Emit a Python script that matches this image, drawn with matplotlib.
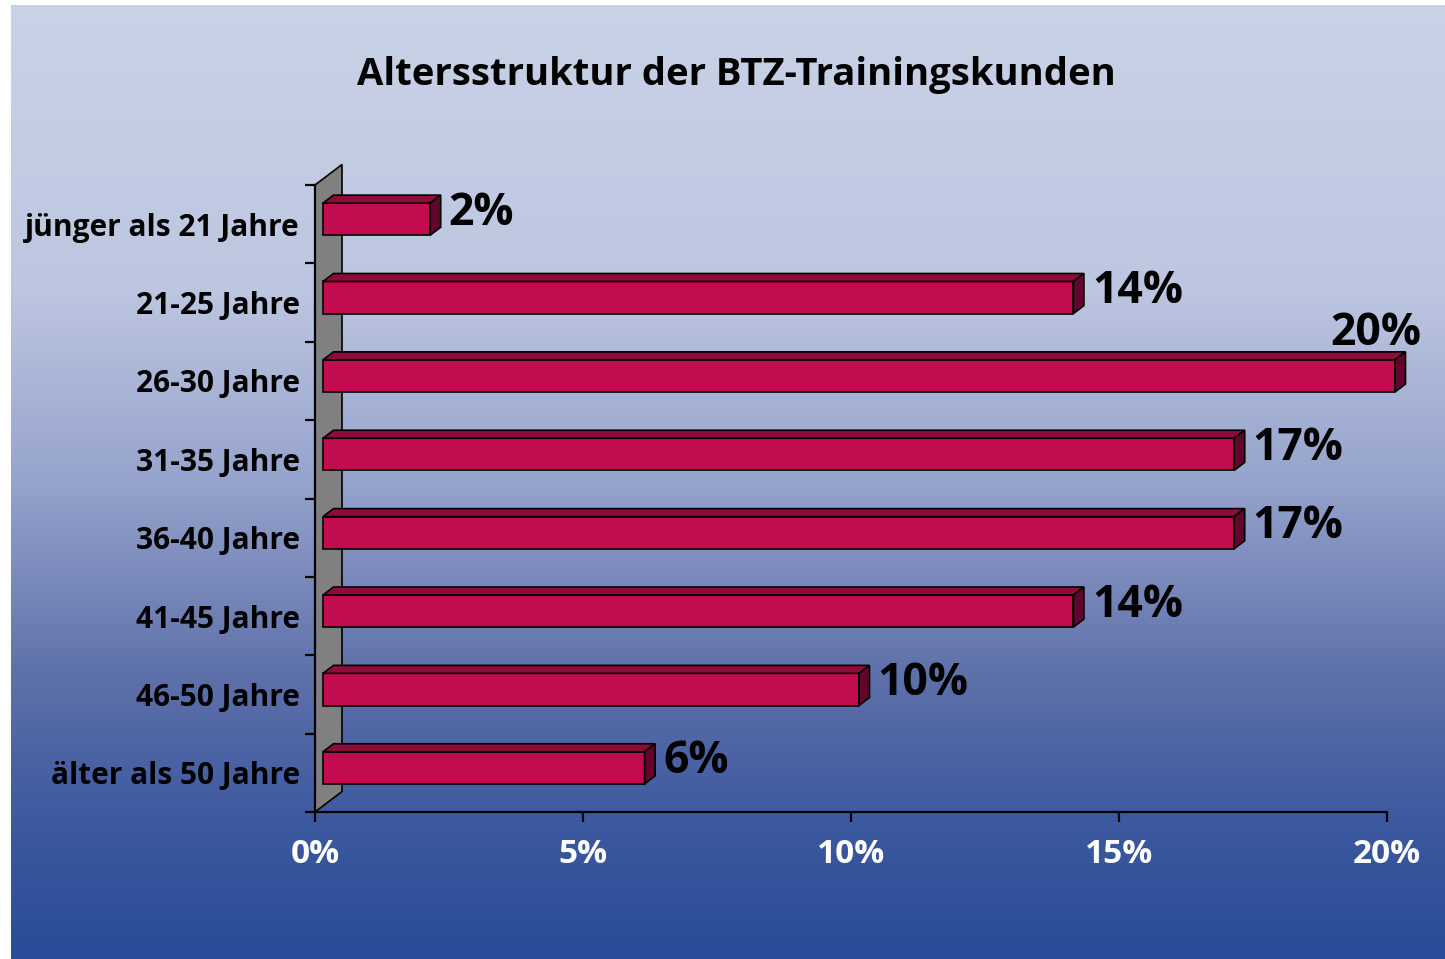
import matplotlib
matplotlib.use("Agg")
import matplotlib.pyplot as plt
import numpy as np
from matplotlib.patches import Polygon
from matplotlib.transforms import IdentityTransform
from matplotlib.colors import LinearSegmentedColormap

plt.rcParams['font.family'] = ['Open Sans', 'DejaVu Sans']
plt.rcParams['font.weight'] = 'bold'

title = "Altersstruktur der BTZ-Trainingskunden"
categories = ["jünger als 21 Jahre", "21-25 Jahre", "26-30 Jahre", "31-35 Jahre",
              "36-40 Jahre", "41-45 Jahre", "46-50 Jahre", "älter als 50 Jahre"]
values = [2, 14, 20, 17, 17, 14, 10, 6]
x_ticks = [0, 5, 10, 15, 20]

W, H = 1445, 959
fig = plt.figure(figsize=(W / 100, H / 100), dpi=100)
fig.patch.set_facecolor("white")

# background gradient
bg = fig.add_axes([11 / W, 0, 1 - 11 / W, 954 / H])
stops = [(0.0, (201, 210, 230)), (0.3, (188, 198, 224)), (0.5, (150, 163, 204)),
         (0.7, (95, 113, 170)), (0.85, (62, 90, 160)), (1.0, (40, 76, 152))]
cmap = LinearSegmentedColormap.from_list("bg", [(p, tuple(c / 255 for c in rgb)) for p, rgb in stops])
bg.imshow(np.linspace(0, 1, 256).reshape(-1, 1), cmap=cmap, aspect="auto", extent=[0, 1, 0, 1])
bg.set_axis_off()

ax = fig.add_axes([315 / W, 1 - 812 / H, (1387 - 315) / W, (812 - 185) / H])
ax.set_facecolor("none")
n = len(categories)
ax.set_xlim(0, 20)
ax.set_ylim(n - 0.5, -0.5)

for s in ["top", "right"]:
    ax.spines[s].set_visible(False)
for s in ["left", "bottom"]:
    ax.spines[s].set_linewidth(1.6)
    ax.spines[s].set_zorder(5)

ax.set_xticks(x_ticks)
ax.set_xticklabels([f"{t}%" for t in x_ticks], color="white", fontsize=24, fontweight="bold")
ax.tick_params(axis="x", length=7.5, width=1.6, pad=11)
ax.set_yticks(np.arange(-0.5, n, 1.0))
ax.set_yticklabels([])
ax.tick_params(axis="y", which="major", length=7.5, width=1.6)
ax.set_yticks(np.arange(n), minor=True)
ax.set_yticklabels(categories, minor=True, fontsize=21.5, fontweight="bold")
ax.tick_params(axis="y", which="minor", length=0, pad=11)

fig.text(736 / W, 1 - 85 / H, title, ha="center", va="baseline", fontsize=27.5, fontweight="bold")

fig.canvas.draw()
to_px = ax.transData.transform
ident = IdentityTransform()

# back wall
wdx, wdy = 27, 20.5
p_bot = to_px((0, n - 0.5))
p_top = to_px((0, -0.5))
wall = [p_bot, p_top, p_top + [wdx, wdy], p_bot + [wdx, wdy]]
ax.add_patch(Polygon(wall, closed=True, facecolor="#808080", edgecolor="black", lw=1.2,
                     transform=ident, clip_on=False, zorder=2))

# 3D bars
fx, fy = 8, 5
bdx, bdy = 10.5, 8
bar_h = 0.41
front_c, top_c, side_c = "#C30C4F", "#8E0B3A", "#62052C"
vmax = max(values)
for i, v in enumerate(values):
    x0, y0 = to_px((0, i + bar_h / 2)) + [fx, fy]
    x1, y1 = to_px((v, i - bar_h / 2)) + [fx, fy]
    front = [(x0, y0), (x1, y0), (x1, y1), (x0, y1)]
    top = [(x0, y1), (x1, y1), (x1 + bdx, y1 + bdy), (x0 + bdx, y1 + bdy)]
    side = [(x1, y0), (x1 + bdx, y0 + bdy), (x1 + bdx, y1 + bdy), (x1, y1)]
    for pts, c in [(front, front_c), (top, top_c), (side, side_c)]:
        ax.add_patch(Polygon(pts, closed=True, facecolor=c, edgecolor="black", lw=1.2,
                             transform=ident, clip_on=False, zorder=3))
    if v == vmax:
        ax.text(x1 + bdx + 16, y1 + bdy - 4, f"{v}%", transform=ident, ha="right", va="bottom",
                fontsize=32, fontweight="bold", zorder=4)
    else:
        ax.text(x1 + bdx + 8, (y0 + y1 + bdy) / 2 + 2, f"{v}%", transform=ident, ha="left", va="center",
                fontsize=32, fontweight="bold", zorder=4)

fig.savefig("out.png", dpi=100)
